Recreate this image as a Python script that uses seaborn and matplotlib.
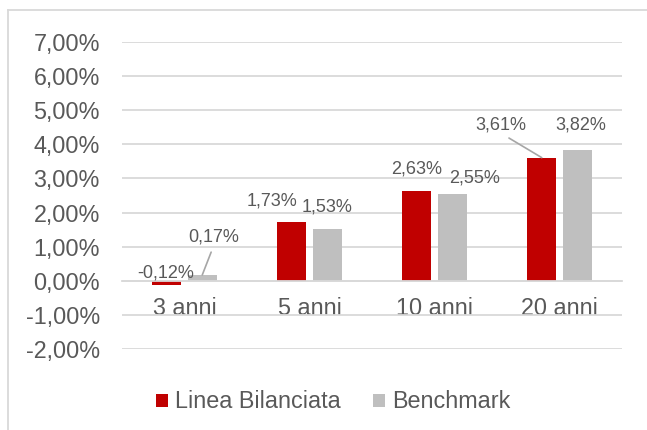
import matplotlib.pyplot as plt
import pandas as pd
import seaborn as sns
from matplotlib.lines import Line2D
from matplotlib.patches import Patch

# data
periods = ['3 anni', '5 anni', '10 anni', '20 anni']
linea = [-0.12, 1.73, 2.63, 3.61]
benchmark = [0.17, 1.53, 2.55, 3.82]
series_names = ['Linea Bilanciata', 'Benchmark']
y_ticks = [-2, -1, 0, 1, 2, 3, 4, 5, 6, 7]

# label offsets (pixels) from bar top, and whether a leader line is drawn
label_offsets = {
    'Linea Bilanciata': [(-1, 12, False), (-20, 21, False), (0, 22, False), (-41, 33, True)],
    'Benchmark': [(11.5, 38, True), (0, 21.5, False), (22.5, 16, False), (4, 25.5, False)],
}

df = pd.DataFrame({
    'periodo': periods * 2,
    'valore': linea + benchmark,
    'serie': [series_names[0]] * 4 + [series_names[1]] * 4,
})

plt.rcParams['font.family'] = ['Liberation Sans', 'DejaVu Sans']
txt_color = '#595959'
grid_color = '#d9d9d9'
colors = {'Linea Bilanciata': '#C00000', 'Benchmark': '#BFBFBF'}
fs = 16.8
fs_lab = 13

fig = plt.figure(figsize=(6.47, 4.30), dpi=100)
ax = fig.add_axes([122 / 647, 1 - 349 / 430, 500 / 647, 307 / 430])

sns.barplot(data=df, x='periodo', y='valore', hue='serie', palette=colors,
            width=0.568, gap=0.17, ax=ax, legend=False, saturation=1)

ax.set_ylim(-2, 7)
ax.set_xlim(-0.5, 3.5)
ax.set_yticks(y_ticks)
ax.set_yticklabels([f'{v:.2f}%'.replace('.', ',') for v in y_ticks])
ax.yaxis.grid(True, color=grid_color, linewidth=1.3)
ax.set_axisbelow(True)
for s in ['top', 'right', 'left']:
    ax.spines[s].set_visible(False)
ax.spines['bottom'].set_position(('data', 0))
ax.spines['bottom'].set_color(grid_color)
ax.spines['bottom'].set_linewidth(1.3)
ax.tick_params(axis='both', length=0, labelsize=fs, labelcolor=txt_color)
ax.tick_params(axis='y', pad=16)
ax.tick_params(axis='x', pad=12)
ax.set_xlabel('')
ax.set_ylabel('')

# data labels
for container, name in zip(ax.containers, series_names):
    for bar, val, (dx, dy, leader) in zip(container, df[df['serie'] == name]['valore'], label_offsets[name]):
        xc = bar.get_x() + bar.get_width() / 2
        label = f'{val:.2f}%'.replace('.', ',')
        arrow = None
        if leader:
            arrow = dict(arrowstyle='-', color='#a6a6a6', lw=1.2, shrinkA=3, shrinkB=0,
                         relpos=(0.5, 0))
        ax.annotate(label, xy=(xc, val), xytext=(dx, dy), textcoords='offset pixels',
                    ha='center', va='center', fontsize=fs_lab, color=txt_color,
                    arrowprops=arrow)

handles = [Patch(facecolor=colors[n], edgecolor='none') for n in series_names]
fig.legend(handles, series_names, loc='center', bbox_to_anchor=(333 / 647, 1 - 402 / 430),
           ncol=2, frameon=False, fontsize=fs, labelcolor=txt_color,
           handlelength=0.5, handleheight=0.5, handletextpad=0.3, columnspacing=1.4)

# chart-area frame (only left and top visible in the crop)
fig.add_artist(Line2D([8 / 647, 8 / 647], [0, 1 - 10 / 430], color=grid_color, lw=1.3))
fig.add_artist(Line2D([8 / 647, 1], [1 - 10 / 430, 1 - 10 / 430], color=grid_color, lw=1.3))

plt.savefig('out.png', dpi=100)
